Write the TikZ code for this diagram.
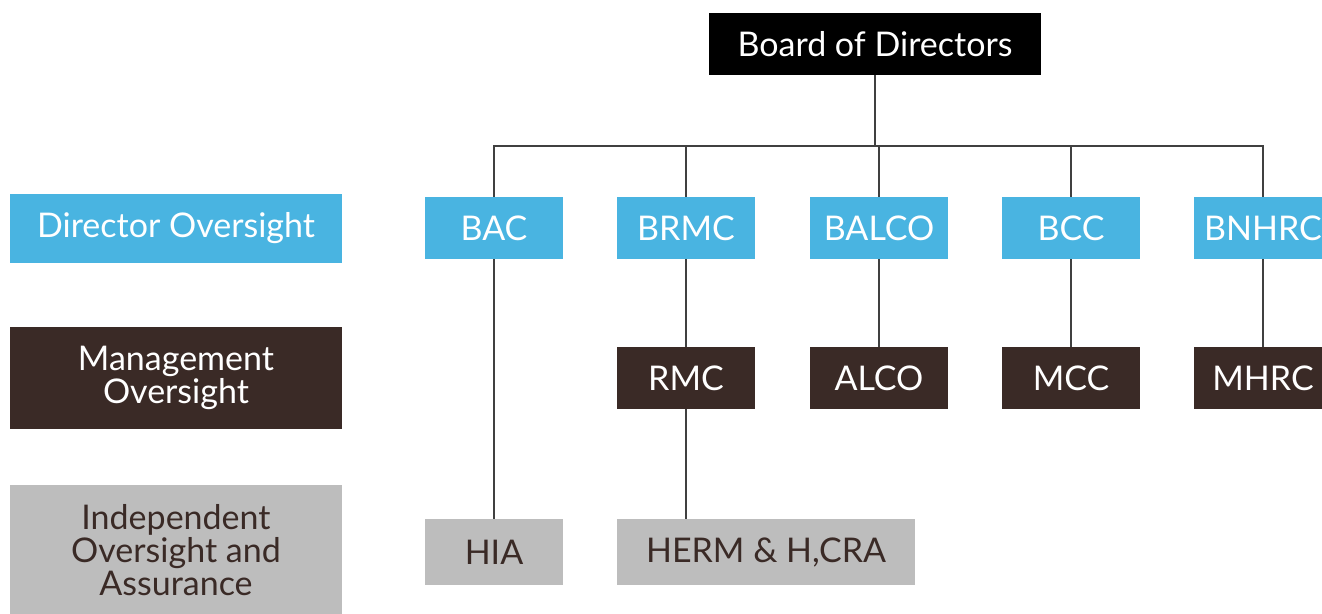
\documentclass[tikz,border=0pt]{standalone}
\usepackage{fontspec}
\setmainfont{Lato}
\definecolor{dirblue}{HTML}{49B4E1}
\definecolor{mgmtbrown}{HTML}{3A2A26}
\definecolor{indgray}{HTML}{BDBDBD}
\definecolor{linegray}{HTML}{404040}

\begin{document}
\begin{tikzpicture}[x=1pt,y=-1pt]
\tikzstyle{every node}+=[inner sep=0pt,font=\fontsize{34}{33}\selectfont,align=center]
\tikzstyle{dir}=[fill=dirblue,text=white,minimum width=138,minimum height=62]
\tikzstyle{mgmt}=[fill=mgmtbrown,text=white,minimum width=138,minimum height=62]
\tikzstyle{ind}=[fill=indgray,text=mgmtbrown,minimum height=66]
\tikzstyle{link}=[draw=linegray,line width=1.4pt]
\clip (0,0) rectangle (1322,613);
\node [fill=black,text=white,minimum width=332,minimum height=62] (board) at (875,44) {Board of Directors};
% row labels
\node [dir,minimum width=332,minimum height=69] (lvldir) at (176,228.5) {Director Oversight};
\node [mgmt,minimum width=332,minimum height=102] (lvlmgmt) at (176,378) {Management\\Oversight};
\node [ind,minimum width=332,minimum height=130] (lvlind) at (176,550) {Independent\\Oversight and\\Assurance};
% board committees
\node [dir] (BAC) at (494,228) {BAC};
\node [dir] (BRMC) at (686,228) {BRMC};
\node [dir] (BALCO) at (879,228) {BALCO};
\node [dir] (BCC) at (1071,228) {BCC};
\node [dir] (BNHRC) at (1263,228) {BNHRC};
% management committees
\node [mgmt] (RMC) at (686,378) {RMC};
\node [mgmt] (ALCO) at (879,378) {ALCO};
\node [mgmt] (MCC) at (1071,378) {MCC};
\node [mgmt] (MHRC) at (1263,378) {MHRC};
% independent functions
\node [ind,minimum width=138] (HIA) at (494,552) {HIA};
\node [ind,minimum width=298] (HERM) at (766,552) {HERM \& H,CRA};
% tree lines
\coordinate (bus) at (875,146);
\draw [link] (board.south) -- (bus);
\draw [link] (BAC.north) -- (BAC.north |- bus) -- (BNHRC.north |- bus) -- (BNHRC.north);
\draw [link] (BRMC.north) -- (BRMC.north |- bus);
\draw [link] (BALCO.north) -- (BALCO.north |- bus);
\draw [link] (BCC.north) -- (BCC.north |- bus);
\draw [link] (BAC.south) -- (HIA.north);
\draw [link] (BRMC.south) -- (RMC.north);
\draw [link] (RMC.south) -- (RMC.south |- HERM.north);
\draw [link] (BALCO.south) -- (ALCO.north);
\draw [link] (BCC.south) -- (MCC.north);
\draw [link] (BNHRC.south) -- (MHRC.north);
\end{tikzpicture}
\end{document}
